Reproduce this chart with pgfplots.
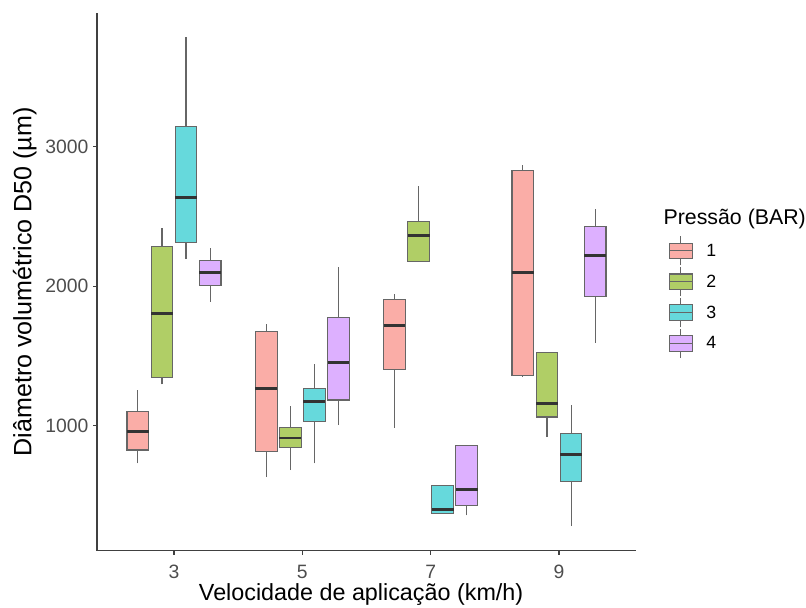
\documentclass[border=0pt]{standalone}
\usepackage{pgfplots}
\pgfplotsset{compat=1.18}
\usepackage{fontspec}
\setmainfont{Liberation Sans}
\definecolor{c1}{HTML}{FAADA7}
\definecolor{c2}{HTML}{B0CE66}
\definecolor{c3}{HTML}{66D9DC}
\definecolor{c4}{HTML}{DDB0FF}
\definecolor{ln}{HTML}{666666}
\definecolor{md}{HTML}{333333}
\definecolor{tk}{HTML}{4D4D4D}
% \bx{fill}{left}{centre}{right}{lower whisker}{lower quartile}{median}{upper quartile}{upper whisker}
\newcommand{\bx}[9]{%
  \addplot[draw=ln, line width=0.8pt, forget plot] coordinates {(#3,#5) (#3,#6)};
  \addplot[draw=ln, line width=0.8pt, forget plot] coordinates {(#3,#8) (#3,#9)};
  \addplot[draw=ln, line width=0.8pt, fill=#1, forget plot] coordinates {(#2,#6) (#4,#6) (#4,#8) (#2,#8)} -- cycle;
  \addplot[draw=md, line width=2.2pt, forget plot] coordinates {(#2,#7) (#4,#7)};
}
\begin{document}
\begin{tikzpicture}
\useasboundingbox (0,0) rectangle (604.5pt,455.25pt);
\begin{axis}[
  at={(72.75pt,42.2pt)}, anchor=south west,
  scale only axis, width=404.25pt, height=403.3pt,
  xmin=0.4, xmax=4.6, ymin=100, ymax=3960,
  clip=false,
  axis lines*=left,
  axis line style={line width=0.8pt, draw=black!75},
  xtick={1,2,3,4}, xticklabels={3,5,7,9},
  ytick={1000,2000,3000},
  tick align=outside, major tick length=3pt,
  tick style={line width=0.8pt, draw=black!75},
  /pgf/number format/assume math mode=true,
  /pgf/number format/1000 sep={},
  ticklabel style={font=\fontsize{14.5}{17}\selectfont, text=tk},
  xticklabel style={yshift=-4.5pt},
  xlabel={Velocidade de aplicação (km/h)},
  ylabel={Diâmetro volumétrico D50 (µm)},
  xlabel style={font=\fontsize{17.5}{21}\selectfont, at={(axis description cs:0.49,-0.082)}, anchor=center},
  ylabel style={font=\fontsize{18.8}{22}\selectfont, at={(axis description cs:-0.134,0.5)}, anchor=center},
  legend cell align=left,
  legend style={at={(axis description cs:1.06,0.586)}, anchor=north west,
    draw=none, fill=none, inner sep=0pt, row sep=0.6pt,
    font=\fontsize{13.3}{15}\selectfont,
    nodes={inner sep=1pt},
    /tikz/every odd column/.append style={column sep=9pt}},
  legend image code/.code={
    \draw[#1, fill] (0pt,-5.9pt) rectangle (17.5pt,5.9pt);
    \draw[#1] (0pt,0pt) -- (17.5pt,0pt);
    \draw[#1] (8.75pt,5.9pt) -- (8.75pt,10.9pt);
    \draw[#1] (8.75pt,-5.9pt) -- (8.75pt,-10.9pt);
  },
]
% group 3 km/h
\bx{c1}{0.63375}{0.71875}{0.80375}{727}{823}{954}{1098}{1254}
\bx{c2}{0.82125}{0.90625}{0.99125}{1295}{1342}{1802}{2283}{2419}
\bx{c3}{1.00875}{1.09375}{1.17875}{2193}{2312}{2638}{3143}{3785}
\bx{c4}{1.19625}{1.28125}{1.36625}{1886}{2001}{2096}{2180}{2276}
% group 5 km/h
\bx{c1}{1.63375}{1.71875}{1.80375}{629}{813}{1266}{1672}{1730}
\bx{c2}{1.82125}{1.90625}{1.99125}{679}{839}{909}{983}{1139}
\bx{c3}{2.00875}{2.09375}{2.17875}{727}{1031}{1170}{1266}{1438}
\bx{c4}{2.19625}{2.28125}{2.36625}{1002}{1182}{1450}{1773}{2137}
% group 7 km/h
\bx{c1}{2.63375}{2.71875}{2.80375}{983}{1402}{1720}{1905}{1945}
\bx{c2}{2.82125}{2.90625}{2.99125}{2173}{2173}{2362}{2463}{2719}
\bx{c3}{3.00875}{3.09375}{3.17875}{365}{365}{394}{571}{571}
\bx{c4}{3.19625}{3.28125}{3.36625}{353}{425}{537}{858}{858}
% group 9 km/h
\bx{c1}{3.63375}{3.71875}{3.80375}{1347}{1361}{2094}{2827}{2870}
\bx{c2}{3.82125}{3.90625}{3.99125}{916}{1060}{1160}{1524}{1524}
\bx{c3}{4.00875}{4.09375}{4.17875}{277}{600}{792}{940}{1144}
\bx{c4}{4.19625}{4.28125}{4.36625}{1593}{1924}{2216}{2430}{2554}
% legend
\addlegendimage{draw=ln, fill=c1, line width=0.8pt}\addlegendentry{1}
\addlegendimage{draw=ln, fill=c2, line width=0.8pt}\addlegendentry{2}
\addlegendimage{draw=ln, fill=c3, line width=0.8pt}\addlegendentry{3}
\addlegendimage{draw=ln, fill=c4, line width=0.8pt}\addlegendentry{4}
\node[anchor=west, inner sep=0pt, font=\fontsize{16}{19}\selectfont]
  at (axis description cs:1.0507,0.617) {Pressão (BAR)};
\end{axis}
\end{tikzpicture}
\end{document}
